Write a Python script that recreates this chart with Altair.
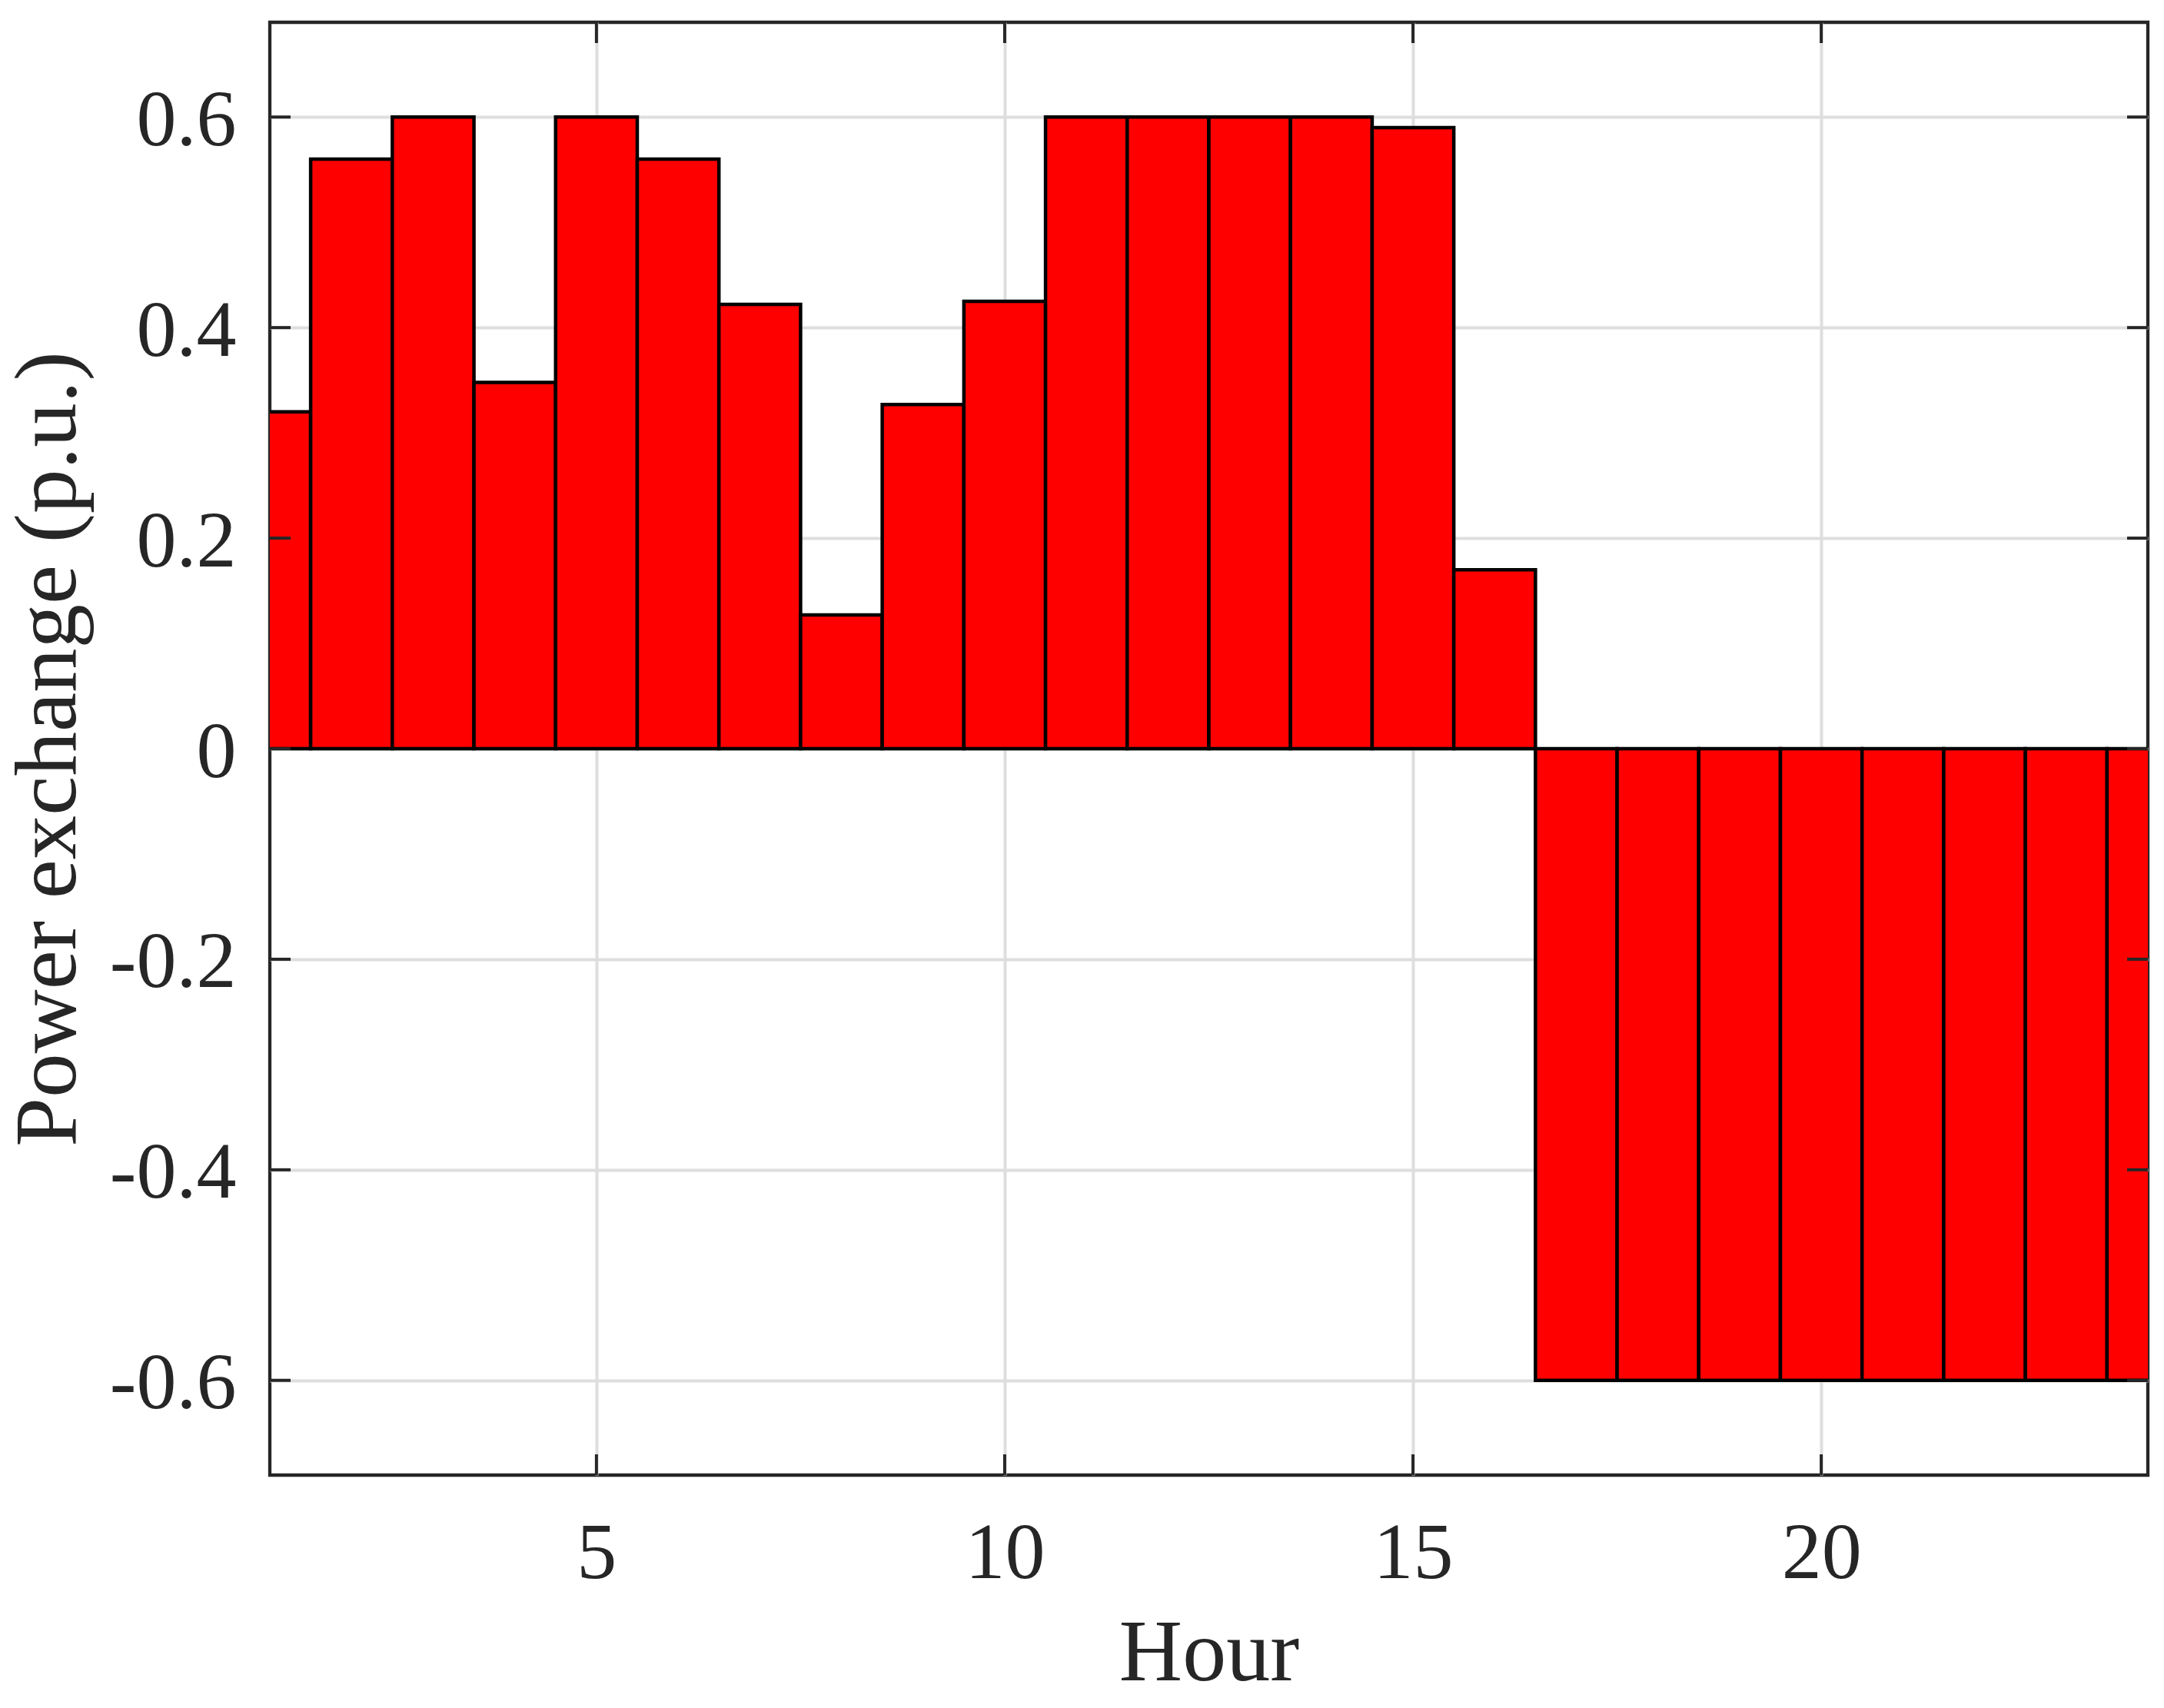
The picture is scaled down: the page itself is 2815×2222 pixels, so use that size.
import altair as alt
import pandas as pd

# ---- data ----
hours = list(range(1, 25))
power = [0.32, 0.56, 0.60, 0.348, 0.60, 0.56, 0.422, 0.127, 0.327, 0.425,
         0.60, 0.60, 0.60, 0.60, 0.59, 0.17,
         -0.60, -0.60, -0.60, -0.60, -0.60, -0.60, -0.60, -0.60]
x_ticks = [5, 10, 15, 20]
y_ticks = [-0.6, -0.4, -0.2, 0, 0.2, 0.4, 0.6]
x_domain = [1, 24]
y_domain = [-0.69, 0.69]

W, H = 2443, 1890
TICK = 27
FONT = "Liberation Serif"
INK = "#262626"
GRID = "#dedede"

bars_df = pd.DataFrame({
    "hour": hours,
    "x0": [h - 0.5 for h in hours],
    "x1": [h + 0.5 for h in hours],
    "value": power,
})
xt_df = pd.DataFrame({"x0": x_ticks})
yt_df = pd.DataFrame({"value": y_ticks})

xscale = alt.Scale(domain=x_domain, nice=False, zero=False)
yscale = alt.Scale(domain=y_domain, nice=False, zero=False)

x_axis = alt.Axis(
    values=x_ticks, tickSize=0, domain=False, grid=True,
    gridColor=GRID, gridWidth=4,
    labelFont=FONT, labelFontSize=104, labelColor=INK,
    labelBaseline="alphabetic", labelPadding=133,
    labelFlush=False, labelOverlap=False,
    title="Hour", titleFont=FONT, titleFontSize=114, titleFontWeight="normal",
    titleColor=INK, titleX=W / 2, titleY=266, titleBaseline="alphabetic",
    titleAlign="center",
)
y_axis = alt.Axis(
    values=y_ticks, tickSize=0, domain=False, grid=True,
    gridColor=GRID, gridWidth=4,
    labelFont=FONT, labelFontSize=104, labelColor=INK,
    labelBaseline="alphabetic", labelOffset=36, labelPadding=44,
    labelFlush=False, labelOverlap=False,
    labelExpr="'' + datum.value",
    title="Power exchange (p.u.)", titleFont=FONT, titleFontSize=115,
    titleFontWeight="normal", titleColor=INK,
    titleX=-254, titleY=H / 2, titleAngle=270, titleBaseline="alphabetic",
    titleAlign="center",
)

bars = alt.Chart(bars_df).mark_bar(
    color="#ff0000", stroke="#000000", strokeWidth=4.5, clip=True
).encode(
    x=alt.X("x0:Q", scale=xscale, axis=x_axis),
    x2="x1:Q",
    y=alt.Y("value:Q", scale=yscale, axis=y_axis),
    y2=alt.datum(0),
)

xt_bottom = alt.Chart(xt_df).mark_rule(color=INK, strokeWidth=4).encode(
    x=alt.X("x0:Q", scale=xscale, axis=x_axis),
    y=alt.value(H), y2=alt.value(H - TICK),
)
xt_top = alt.Chart(xt_df).mark_rule(color=INK, strokeWidth=4).encode(
    x=alt.X("x0:Q", scale=xscale, axis=x_axis),
    y=alt.value(0), y2=alt.value(TICK),
)
yt_left = alt.Chart(yt_df).mark_rule(color=INK, strokeWidth=4).encode(
    y=alt.Y("value:Q", scale=yscale, axis=y_axis),
    x=alt.value(0), x2=alt.value(TICK),
)
yt_right = alt.Chart(yt_df).mark_rule(color=INK, strokeWidth=4).encode(
    y=alt.Y("value:Q", scale=yscale, axis=y_axis),
    x=alt.value(W - TICK), x2=alt.value(W),
)

chart = alt.layer(bars, xt_bottom, xt_top, yt_left, yt_right).properties(
    width=W, height=H,
    autosize=alt.AutoSizeParams(type="none"),
    padding={"left": 343, "top": 21, "right": 10, "bottom": 290},
    background="white",
).configure_view(
    stroke=INK, strokeWidth=4.3
)

chart.save("out.html", embed_options={"renderer": "svg", "actions": False})
